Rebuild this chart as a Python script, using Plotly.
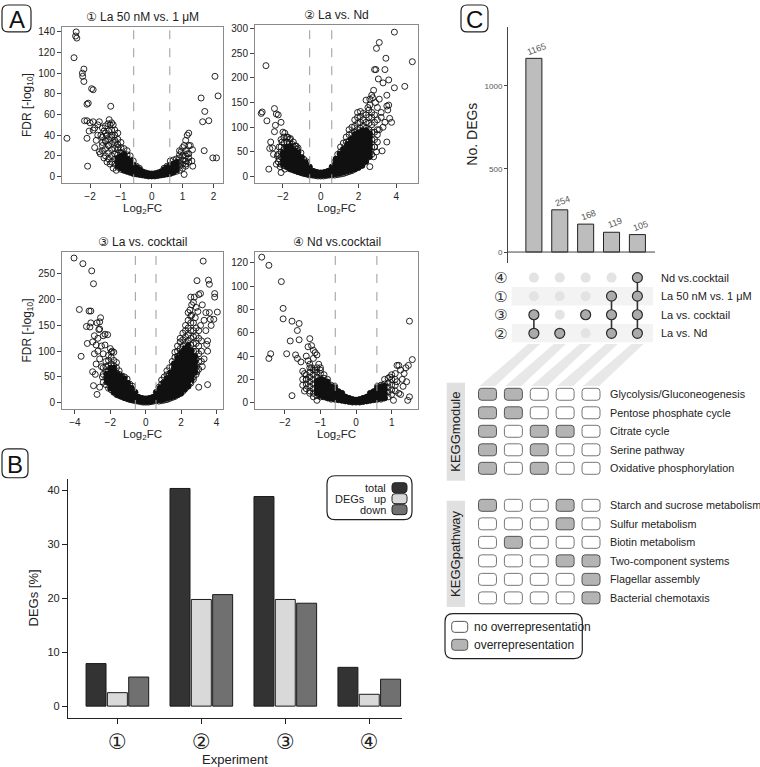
import plotly.graph_objects as go

W, H = 760, 767
FONT = "Liberation Sans, Arial, DejaVu Sans, sans-serif"

# ================= DATA =================
# ---- Panel A: volcano plots (Log2FC, -log10 FDR) ----
vol_titles = ["① La 50 nM vs. 1 μM", "② La vs. Nd", "③ La vs. cocktail", "④ Nd vs.cocktail"]
fc_threshold = 0.585

vol1_xticks = [-2, -1, 0, 1, 2]
vol1_yticks = [0, 20, 40, 60, 80, 100, 120, 140]
vol2_xticks = [-2, 0, 2, 4]
vol2_yticks = [0, 50, 100, 150, 200, 250, 300]
vol3_xticks = [-4, -2, 0, 2, 4]
vol3_yticks = [0, 50, 100, 150, 200, 250]
vol4_xticks = [-2, -1, 0, 1]
vol4_yticks = [0, 20, 40, 60, 80, 100, 120]

# scattered genes (open circles)
vol1_outliers = [(-2.75, 37), (-2.45, 140), (-2.47, 136), (-2.43, 134), (-2.52, 115), (-2.2, 104), (-2.25, 100),
                 (-2.24, 97), (-2.2, 92), (-1.95, 85), (-1.9, 84), (-2.06, 71), (-2.1, 70), (-1.33, 68), (-2.18, 54),
                 (-2.1, 54), (-2.03, 44), (-2.1, 37), (-2.08, 10), (-1.9, 53), (-1.7, 53), (-1.75, 50), (-1.85, 47),
                 (-1.6, 47), (-1.5, 49), (-1.38, 55), (-1.3, 52), (-1.35, 50), (-1.42, 51), (-1.25, 50), (-1.2, 45),
                 (-1.55, 44), (-1.65, 40), (-1.45, 40), (-1.8, 35), (-1.6, 30), (-1.7, 24), (-1.67, 22), (-1.55, 18),
                 (-1.45, 14), (-1.35, 12), (-1.25, 8), (-1.15, 6), (-1.5, 35), (-1.3, 40), (-1.4, 30), (-1.2, 35),
                 (-1.1, 28), (-1.9, 45), (-2.0, 52), (-1.75, 40), (-1.85, 28),
                 (2.05, 97), (2.15, 78), (1.6, 76), (1.72, 63), (1.85, 54), (1.65, 53), (1.7, 25), (1.98, 18),
                 (2.1, 18), (1.2, 42), (1.15, 40), (1.1, 35), (1.25, 30), (1.32, 26), (1.3, 15), (1.33, 10),
                 (1.05, 30), (1.0, 28), (1.15, 22), (1.2, 18), (1.1, 12), (0.95, 24), (1.05, 2), (0.9, 25)]
# dense arms (open circles, grouped by Log2FC column)
vol1_dense = [(0.0, [0.5, 2.5]), (0.1, [0.5, 2.5]), (-0.1, [0.5, 2.5]), (0.2, [1, 3.5]), (-0.2, [1, 3.5]),
              (0.3, [1.5, 4.5]), (-0.3, [1.5, 4.5]), (0.4, [2, 5.5, 8]), (-0.4, [2, 5.5, 8]),
              (0.5, [2.5, 6, 10]), (-0.5, [2.5, 6, 10]), (0.6, [3, 7, 11, 15]), (-0.6, [3, 7, 11, 15]),
              (0.7, [4, 8, 12, 16]), (-0.7, [4, 8, 12, 16, 20]), (0.8, [5, 9, 13, 17]),
              (-0.8, [5, 9, 13, 17, 21, 25]), (0.9, [6, 10, 14, 18, 21]), (-0.9, [6, 10, 14, 18, 22, 27]),
              (1.0, [8, 12, 16, 20]), (-1.0, [7, 11, 15, 19, 23, 28, 33]), (1.1, [10, 15, 20, 25]),
              (-1.1, [9, 13, 17, 21, 26, 31, 36, 42]), (1.2, [14, 22, 30]), (-1.2, [12, 17, 22, 27, 33, 40]),
              (-1.3, [14, 20, 26, 32, 38, 45]), (-1.4, [17, 23, 30, 36, 44]), (-1.5, [20, 27, 34, 42]),
              (-1.6, [25, 33, 38])]
# saturated cores (overlapping circles that read as solid black)
vol1_core = [(0.0, [0.5, 2.5]), (0.1, [0.5, 3]), (-0.1, [0.5, 3]), (0.2, [1, 3.5]), (-0.2, [1, 3.5]),
             (0.3, [1.5, 4.5]), (-0.3, [1.5, 4.5]), (0.4, [2, 5, 7]), (-0.4, [2, 5, 7]), (0.5, [2.5, 6, 9]),
             (-0.5, [2.5, 6, 9]), (-0.6, [3, 7, 11]), (0.6, [3, 7, 10]), (-0.7, [4, 8, 12, 15]),
             (0.7, [4, 8, 12]), (-0.8, [5, 9, 13, 17]), (0.8, [6, 10, 14]), (-0.9, [6, 10, 14, 18, 21]),
             (-1.0, [8, 12, 16, 20]), (-1.1, [10, 14, 18])]

vol2_outliers = [(-2.9, 225), (-3.15, 128), (-3.1, 131), (-2.45, 138), (-2.35, 127), (-2.25, 125), (-2.85, 113),
                 (-2.1, 110), (-2.4, 104), (-2.45, 91), (-2.65, 70), (-2.7, 57), (-2.55, 58), (-2.75, 15),
                 (-2.1, 8), (-2.2, 36), (-2.3, 42), (-2.5, 45), (-2.0, 90), (-1.9, 88), (-1.75, 80), (-1.6, 77),
                 (-1.45, 70), (-1.3, 62), (-1.25, 55), (-2.05, 70), (-2.2, 60), (-2.35, 25), (-2.15, 20), (-1.9, 15),
                 (3.9, 293), (3.1, 272), (2.95, 260), (4.85, 233), (3.45, 240), (2.85, 217), (2.92, 217),
                 (3.4, 217), (3.05, 198), (3.6, 196), (3.3, 190), (3.9, 180), (4.45, 183), (3.5, 165), (3.1, 157),
                 (3.5, 143), (3.55, 135), (3.2, 130), (3.65, 118), (3.5, 70), (3.25, 52), (2.95, 50), (2.6, 20),
                 (3.0, 85), (3.3, 100), (2.7, 165), (2.6, 157), (2.8, 175), (2.75, 160), (3.4, 110), (3.2, 120),
                 (3.0, 140), (2.9, 150), (3.1, 95), (2.85, 60), (2.8, 40), (3.6, 145), (3.75, 110), (2.5, 140),
                 (2.4, 155), (2.6, 145)]
vol2_dense = [(0.0, [1, 6]), (0.15, [1, 6]), (-0.15, [1, 6]), (0.3, [2, 9]), (-0.3, [2, 9]), (0.45, [3, 11]),
              (-0.45, [3, 11]), (0.6, [3, 11, 19]), (-0.6, [3, 11, 19]),
              (-0.75, [5, 13, 22, 30]), (-0.9, [6, 15, 25, 35]), (-1.05, [8, 18, 28, 38, 48]),
              (-1.2, [10, 20, 30, 40, 50, 58]), (-1.35, [12, 22, 32, 42, 52, 62]),
              (-1.5, [14, 25, 35, 45, 55, 65]), (-1.65, [16, 28, 38, 48, 58, 68, 76]),
              (-1.8, [20, 30, 40, 50, 60, 70, 80]), (-1.95, [22, 35, 45, 55, 68, 80]),
              (-2.1, [25, 40, 50, 60, 75]), (-2.25, [30, 45]),
              (0.75, [3, 12, 22, 30]), (0.9, [4, 14, 25, 35, 45]), (1.05, [5, 16, 28, 40, 50, 60]),
              (1.2, [6, 18, 30, 42, 55, 68]), (1.35, [8, 20, 32, 45, 58, 70, 80]),
              (1.5, [10, 22, 35, 48, 60, 72, 85, 95]), (1.65, [12, 25, 38, 50, 62, 75, 88, 100]),
              (1.8, [15, 28, 40, 52, 65, 78, 90, 102, 115]), (1.95, [18, 32, 45, 58, 70, 82, 95, 108, 120, 130]),
              (2.1, [22, 35, 48, 60, 72, 85, 98, 110, 122, 132]), (2.25, [28, 40, 52, 65, 78, 90, 102, 115, 128]),
              (2.4, [35, 48, 60, 72, 85, 98, 110, 125]), (2.55, [40, 55, 68, 80, 95, 108, 120, 135]),
              (2.7, [45, 60, 75, 90, 105, 120, 130]), (2.85, [60, 75, 90, 110, 125]), (3.0, [70, 95, 115])]
vol2_core = [(0.0, [2, 8]), (0.2, [2, 9]), (-0.2, [2, 9]), (0.4, [3, 11]), (-0.4, [3, 11]), (-0.6, [4, 12, 20]),
             (0.6, [4, 12, 20]), (-0.8, [5, 13, 21, 29]), (-1.0, [7, 15, 23, 31, 39]),
             (-1.2, [9, 17, 25, 33, 41, 48]), (-1.4, [12, 20, 28, 36, 44, 52]), (-1.6, [15, 23, 31, 39, 47, 55, 62]),
             (-1.8, [20, 28, 36, 44, 52, 60]), (-2.0, [25, 33, 41, 49]),
             (0.8, [5, 13, 21, 29, 36]), (1.0, [6, 14, 22, 30, 38, 46]), (1.2, [8, 16, 24, 32, 40, 48, 56]),
             (1.4, [10, 18, 26, 34, 42, 50, 58, 66]), (1.6, [12, 20, 28, 36, 44, 52, 60, 68, 76]),
             (1.8, [15, 23, 31, 39, 47, 55, 63, 71, 79, 86]), (2.0, [18, 26, 34, 42, 50, 58, 66, 74, 82, 90]),
             (2.2, [22, 30, 38, 46, 54, 62, 70, 78, 86, 94]), (2.4, [30, 38, 46, 54, 62, 70, 78, 86, 94]),
             (2.6, [40, 48, 56, 64, 72, 80, 88])]

vol3_outliers = [(-4.05, 281), (-3.55, 270), (-3.05, 256), (-2.95, 231), (-3.75, 181), (-3.2, 178), (-3.1, 178),
                 (-3.35, 148), (-3.15, 147), (-3.1, 155), (-2.55, 165), (-2.6, 157), (-2.75, 155), (-2.6, 143),
                 (-2.65, 142), (-2.3, 133), (-2.4, 130), (-2.15, 132), (-3.65, 90), (-3.0, 118), (-2.8, 112),
                 (-2.9, 95), (-3.0, 60), (-2.85, 55), (-2.95, 33), (-2.75, 16), (-2.0, 105), (-1.9, 100),
                 (-1.8, 98), (-2.5, 110), (-2.7, 100), (-2.4, 95), (-2.6, 85), (-2.8, 75), (-2.5, 70), (-2.3, 112),
                 (-2.7, 125), (-2.9, 130), (-3.3, 115), (-2.45, 50), (-2.6, 30),
                 (3.25, 275), (2.9, 237), (3.55, 238), (3.6, 230), (3.0, 210), (3.1, 212), (3.9, 212), (3.9, 205),
                 (4.05, 176), (3.4, 175), (3.6, 175), (3.85, 162), (3.65, 162), (3.5, 35), (3.5, 120), (3.45, 113),
                 (2.55, 205), (2.7, 195), (2.85, 185), (2.95, 177), (2.5, 180), (2.6, 170), (3.2, 190), (3.3, 160),
                 (3.1, 150), (3.4, 140), (3.5, 100), (3.3, 85), (3.2, 70), (2.9, 60), (2.7, 50), (2.5, 40),
                 (3.0, 30), (2.8, 165), (3.7, 150), (2.6, 190), (2.75, 205), (2.4, 175)]
vol3_dense = [(0.0, [1, 5]), (0.15, [1, 6]), (-0.15, [1, 6]), (0.3, [2, 8]), (-0.3, [2, 8]), (0.45, [3, 10]),
              (-0.45, [3, 10]), (0.6, [4, 12, 20]), (-0.6, [4, 12, 20]),
              (-0.75, [5, 14, 24, 32]), (-0.9, [6, 16, 26, 36]), (-1.05, [8, 18, 28, 38, 46]),
              (-1.2, [10, 20, 30, 40, 50]), (-1.35, [12, 22, 32, 42, 52]), (-1.5, [14, 25, 35, 45, 55, 62]),
              (-1.65, [16, 28, 38, 48, 58, 68, 78]), (-1.8, [20, 30, 42, 52, 62, 72, 82]),
              (-1.95, [25, 35, 45, 55, 65, 75, 88, 98]), (-2.1, [28, 40, 52, 62, 72, 82, 92]),
              (-2.25, [35, 48, 60, 70, 80]), (-2.4, [40, 55, 68]),
              (0.75, [3, 12, 22, 30]), (0.9, [4, 14, 26, 36, 44]), (1.05, [5, 16, 28, 40, 50]),
              (1.2, [6, 18, 30, 42, 54, 62]), (1.35, [8, 20, 32, 44, 56, 68]), (1.5, [10, 22, 34, 46, 58, 70, 80]),
              (1.65, [12, 25, 38, 50, 62, 75, 88, 98]), (1.8, [15, 28, 40, 52, 65, 78, 90, 100, 110]),
              (1.95, [18, 30, 42, 55, 68, 80, 92, 105, 118, 125]),
              (2.1, [22, 35, 48, 60, 72, 85, 98, 110, 122, 135]),
              (2.25, [28, 40, 52, 65, 78, 90, 102, 115, 128, 140, 150]),
              (2.4, [32, 45, 58, 70, 82, 95, 108, 120, 132, 145, 160]),
              (2.55, [38, 50, 62, 75, 88, 100, 112, 125, 140, 155, 168]),
              (2.7, [45, 58, 70, 85, 100, 115, 128, 140, 155]), (2.85, [55, 70, 85, 100, 115, 130, 145]),
              (3.0, [65, 80, 95, 110, 125, 140]), (3.15, [80, 100, 120])]
vol3_core = [(0.0, [2, 8]), (0.2, [2, 9]), (-0.2, [2, 9]), (0.4, [3, 11]), (-0.4, [3, 11]), (0.6, [4, 12, 20]),
             (-0.6, [4, 12, 20]), (-0.8, [5, 13, 21, 29]), (-1.0, [7, 15, 23, 31, 38]),
             (-1.2, [9, 17, 25, 33, 41, 47]), (-1.4, [12, 20, 28, 36, 44, 52]), (-1.6, [15, 23, 31, 39, 47, 55]),
             (-1.8, [20, 28, 36, 44, 52, 60, 68]), (-2.0, [28, 36, 44, 52, 60, 68]), (-2.2, [40, 48, 56]),
             (0.8, [5, 13, 21, 29]), (1.0, [6, 14, 22, 30, 38]), (1.2, [8, 16, 24, 32, 40, 48]),
             (1.4, [10, 18, 26, 34, 42, 50, 58]), (1.6, [12, 20, 28, 36, 44, 52, 60, 68, 76]),
             (1.8, [15, 23, 31, 39, 47, 55, 63, 71, 79, 87]), (2.0, [18, 26, 34, 42, 50, 58, 66, 74, 82, 90, 98]),
             (2.2, [25, 33, 41, 49, 57, 65, 73, 81, 89, 97, 105]),
             (2.4, [32, 40, 48, 56, 64, 72, 80, 88, 96, 104, 112]), (2.6, [45, 53, 61, 69, 77, 85, 93, 101]),
             (2.8, [60, 70, 80, 90])]

vol4_outliers = [(-2.65, 125), (-2.45, 118), (-2.1, 104), (-2.05, 81), (-2.05, 72), (-1.8, 70), (-1.6, 68),
                 (-1.65, 62), (-1.85, 53), (-1.6, 54), (-2.4, 42), (-2.45, 38), (-1.95, 42), (-1.7, 41),
                 (-1.65, 38), (-1.3, 55), (-1.25, 49), (-1.2, 45), (-1.15, 43), (-1.1, 41), (-1.8, 6), (-1.35, 48),
                 (-1.4, 40), (-1.5, 27), (-1.45, 25), (-1.35, 36), (-1.3, 33), (-1.2, 38), (-1.05, 33), (-1.0, 30),
                 (-1.15, 28), (-1.25, 30), (-1.4, 20), (-1.3, 8), (-1.2, 5), (-1.1, 2), (-1.55, 35), (-1.45, 10),
                 (1.5, 70), (1.58, 37), (1.47, 32), (1.2, 32), (1.15, 32), (1.25, 28), (1.35, 25), (1.1, 25),
                 (1.0, 24), (0.95, 22), (1.42, 18), (1.32, 14), (1.2, 8), (1.25, 7), (1.45, 2), (1.5, 5),
                 (1.05, 2), (1.15, 18), (1.3, 20), (1.4, 30)]
vol4_dense = [(0.0, [0.5, 2]), (0.1, [0.5, 2.5]), (-0.1, [0.5, 2.5]), (0.2, [1, 3.5]), (-0.2, [1, 3.5]),
              (0.3, [1.5, 4.5]), (-0.3, [1.5, 4.5]), (0.4, [2, 5, 8]), (-0.4, [2, 5, 8]),
              (0.5, [2.5, 6, 9.5]), (-0.5, [2.5, 6, 9.5]), (0.6, [3, 7, 11, 14]), (-0.6, [3, 7, 11, 14]),
              (-0.7, [3, 7, 11, 15]), (-0.8, [4, 8, 12, 16, 20]), (-0.9, [5, 9, 13, 17, 21, 24]),
              (-1.0, [5, 9, 13, 17, 21, 25, 28]), (-1.1, [6, 10, 14, 18, 22, 26, 30]),
              (-1.2, [8, 12, 16, 20, 24, 28]), (-1.3, [10, 14, 18, 22, 26, 30]), (-1.4, [12, 16, 20, 24]),
              (-1.5, [15, 20]),
              (0.7, [3, 7, 11, 15]), (0.8, [4, 8, 12, 16, 20]), (0.9, [5, 9, 13, 17, 21]),
              (1.0, [7, 11, 15, 20]), (1.1, [10, 15, 20])]
vol4_core = [(0.0, [0.5, 2.5]), (0.1, [0.5, 3]), (-0.1, [0.5, 3]), (0.2, [1, 4]), (-0.2, [1, 4]),
             (0.3, [1.5, 5]), (-0.3, [1.5, 5]), (0.4, [2, 5.5, 8]), (-0.4, [2, 5.5, 8]), (0.5, [2.5, 6, 9.5]),
             (-0.5, [2.5, 6, 9.5]), (-0.6, [3, 6.5, 10, 13]), (0.6, [3, 6.5, 10, 13]),
             (-0.7, [3.5, 7, 10.5, 14]), (0.7, [3.5, 7, 10.5, 14]), (-0.8, [4, 7.5, 11, 14.5, 18]),
             (0.8, [4, 7.5, 11, 14.5]), (-0.9, [5, 8.5, 12, 15.5, 19]), (-1.0, [6, 9.5, 13, 16.5, 20]),
             (-1.1, [8, 11.5, 15, 18.5])]

# ---- Panel B: DEGs [%] ----
exp_labels = ["①", "②", "③", "④"]
deg_total = [7.9, 40.4, 38.9, 7.2]
deg_up = [2.5, 19.8, 19.8, 2.2]
deg_down = [5.4, 20.7, 19.1, 5.0]

# ---- Panel C: UpSet ----
inter_sizes = [1165, 254, 168, 119, 105]
set_nums = ["④", "①", "③", "②"]
set_names = ["Nd vs.cocktail", "La 50 nM vs. 1 μM", "La vs. cocktail", "La vs. Nd"]
inter_members = [[2, 3], [3], [2], [1, 2, 3], [0, 1, 2, 3]]

kegg_module_terms = ["Glycolysis/Gluconeogenesis", "Pentose phosphate cycle", "Citrate cycle",
                     "Serine pathway", "Oxidative phosphorylation"]
kegg_module_hits = [[1, 1, 0, 0, 0], [1, 1, 0, 0, 0], [1, 0, 1, 1, 0], [1, 0, 1, 0, 0], [1, 0, 1, 0, 0]]
kegg_pathway_terms = ["Starch and sucrose metabolism", "Sulfur metabolism", "Biotin metabolism",
                      "Two-component systems", "Flagellar assembly", "Bacterial chemotaxis"]
kegg_pathway_hits = [[1, 0, 0, 1, 0], [0, 0, 0, 1, 0], [0, 1, 0, 0, 0], [0, 0, 0, 1, 1],
                     [0, 0, 0, 0, 1], [0, 0, 0, 0, 1]]

# ================= FIGURE =================
def X(v): return v / W
def Y(v): return 1 - v / H

def ax_id(n):
    return "" if n == 1 else str(n)

def unpack(groups):
    xs, ys = [], []
    for xv, yl in groups:
        for yv in yl:
            xs.append(xv)
            ys.append(yv)
    return xs, ys

fig = go.Figure()
shapes = []
annots = []

def ann(x, y, text, size=12, color="#222", xanchor="center", yanchor="middle", angle=0, xref="paper", yref="paper", **kw):
    annots.append(dict(x=x, y=y, xref=xref, yref=yref, text=text, showarrow=False, xanchor=xanchor,
                       yanchor=yanchor, textangle=angle, font=dict(size=size, color=color, family=FONT), **kw))

def rrect_paper(x0, y0, x1, y1, r, fill, line="#222", lw=1.0, layer="above"):
    rx, ry = r / W, r / H
    a, b, c, d = X(x0), Y(y0), X(x1), Y(y1)
    p = (f"M {a+rx},{b} L {c-rx},{b} Q {c},{b} {c},{b-ry} L {c},{d+ry} Q {c},{d} {c-rx},{d} "
         f"L {a+rx},{d} Q {a},{d} {a},{d+ry} L {a},{b-ry} Q {a},{b} {a+rx},{b} Z")
    shapes.append(dict(type="path", path=p, xref="paper", yref="paper", fillcolor=fill,
                       line=dict(color=line, width=lw), layer=layer))

# ---------- Panel A ----------
vol_specs = [
    (1, (62, 223), (25, 181.7), [-2.91, 2.31], [-6.5, 144.8], vol1_xticks, vol1_yticks, vol1_outliers, vol1_dense, vol1_core, True),
    (2, (255, 418), (23.3, 181.7), [-3.48, 5.15], [-13.6, 307], vol2_xticks, vol2_yticks, vol2_outliers, vol2_dense, vol2_core, False),
    (3, (62, 223), (250.7, 408), [-4.73, 4.37], [-12.2, 292.6], vol3_xticks, vol3_yticks, vol3_outliers, vol3_dense, vol3_core, True),
    (4, (255, 418), (250.7, 408), [-2.84, 1.74], [-5.4, 129.4], vol4_xticks, vol4_yticks, vol4_outliers, vol4_dense, vol4_core, False),
]
layout_axes = {}
for i, (n, xp, yp, xr, yr, xt, yt, outl, dense, core, ytitle) in enumerate(vol_specs):
    k = ax_id(n)
    cxs, cys = unpack(core)
    fig.add_trace(go.Scatter(x=cxs, y=cys, mode="markers", xaxis=f"x{k}", yaxis=f"y{k}",
                             marker=dict(symbol="circle", size=6, color="#111", line=dict(width=0)),
                             hoverinfo="skip"))
    dxs, dys = unpack(dense)
    xs = [p[0] for p in outl] + dxs
    ys = [p[1] for p in outl] + dys
    fig.add_trace(go.Scatter(x=xs, y=ys, mode="markers", xaxis=f"x{k}", yaxis=f"y{k}",
                             marker=dict(symbol="circle-open", size=6, color="#111", line=dict(width=0.9)),
                             hoverinfo="skip"))
    common = dict(showline=True, mirror=True, linecolor="#8a8a8a", linewidth=1, ticks="outside", ticklen=4,
                  tickcolor="#444", showgrid=False, zeroline=False,
                  tickfont=dict(size=10, color="#222", family=FONT))
    layout_axes[f"xaxis{k}"] = dict(domain=[X(xp[0]), X(xp[1])], anchor=f"y{k}", range=xr, tickvals=xt, **common)
    layout_axes[f"yaxis{k}"] = dict(domain=[Y(yp[1]), Y(yp[0])], anchor=f"x{k}", range=yr, tickvals=yt, **common)
    for s in (-fc_threshold, fc_threshold):
        shapes.append(dict(type="line", xref=f"x{k}", yref=f"y{k} domain", x0=s, x1=s, y0=0, y1=1,
                           line=dict(color="#9a9a9a", width=1, dash="dash")))
    cx = (xp[0] + xp[1]) / 2
    ann(X(cx), Y(yp[0] - 10), vol_titles[i], size=12)
    ann(X(cx), Y(yp[1] + 26), "Log<sub>2</sub>FC", size=11.5)
    if ytitle:
        ann(X(28), Y((yp[0] + yp[1]) / 2), "FDR [-log<sub>10</sub>]", size=12, angle=-90)

# ---------- Panel B ----------
bx = [1, 2, 3, 4]
off = 0.254
bw = 0.238
for vals, col, dx in ((deg_total, "#333333", -off), (deg_up, "#d9d9d9", 0), (deg_down, "#707070", off)):
    fig.add_trace(go.Bar(x=[v + dx for v in bx], y=vals, width=bw, xaxis="x5", yaxis="y5",
                         marker=dict(color=col, line=dict(color="#1a1a1a", width=1)), hoverinfo="skip"))
layout_axes["xaxis5"] = dict(domain=[X(68), X(402)], anchor="y5", range=[0.412, 4.39], tickvals=bx,
                             ticktext=exp_labels, showline=True, linecolor="#222", linewidth=1.2,
                             ticks="outside", ticklen=5, tickcolor="#222", showgrid=False, zeroline=False,
                             tickfont=dict(size=21, color="#222", family=FONT))
layout_axes["yaxis5"] = dict(domain=[Y(717.7), Y(478)], anchor="x5", range=[-2.17, 42.2],
                             tickvals=[0, 10, 20, 30, 40], showline=True, linecolor="#222", linewidth=1.2,
                             ticks="outside", ticklen=5, tickcolor="#222", showgrid=False, zeroline=False,
                             tickfont=dict(size=11, color="#222", family=FONT))
ann(X(235), Y(759), "Experiment", size=13)
ann(X(33), Y(598), "DEGs [%]", size=13, angle=-90)
# legend B
rrect_paper(327, 475, 412, 519, 8, "white", "#222", 1.2)
for yy, lab, col in ((487, "total", "#333333"), (498, "up", "#d9d9d9"), (509, "down", "#707070")):
    ann(X(388), Y(yy), lab, size=11, xanchor="right")
    rrect_paper(392, yy - 5, 407, yy + 5, 3, col, "#222", 1)
ann(X(333), Y(498), "DEGs", size=11, xanchor="left")

# ---------- Panel C: intersection bars ----------
cx_idx = [1, 2, 3, 4, 5]
fig.add_trace(go.Bar(x=cx_idx, y=inter_sizes, width=0.62, xaxis="x6", yaxis="y6",
                     marker=dict(color="#bdbdbd", line=dict(color="#222", width=1)), hoverinfo="skip"))
layout_axes["xaxis6"] = dict(domain=[X(508), X(655)], anchor="y6", range=[0.0, 5.68], visible=False)
layout_axes["yaxis6"] = dict(domain=[Y(261.7), Y(25)], anchor="x6", range=[-66, 1354], tickvals=[0, 500, 1000],
                             showline=True, linecolor="#444", linewidth=1, ticks="outside", ticklen=3,
                             tickcolor="#444", showgrid=False, zeroline=False,
                             tickfont=dict(size=8, color="#555", family=FONT))
shapes.append(dict(type="line", xref="x6", yref="y6", x0=0.0, x1=5.68, y0=0, y1=0,
                   line=dict(color="#444", width=1)))
for xi, v in zip(cx_idx, inter_sizes):
    ann(xi, v, str(v), size=9, color="#555", angle=-20, xref="x6", yref="y6", yshift=9, xshift=3)
ann(X(472), Y(133), "No. DEGs", size=14, angle=-90)

# matrix
layout_axes["yaxis7"] = dict(domain=[Y(341.5), Y(267)], anchor="x6", range=[3.5, -0.5], visible=False)
for r in (1, 3):
    shapes.append(dict(type="rect", xref="paper", yref="y7", x0=X(511.7), x1=X(653), y0=r - 0.5, y1=r + 0.5,
                       fillcolor="#f3f3f3", line=dict(width=0), layer="below"))
inx, iny, ax_, ay_ = [], [], [], []
for ci, mem in zip(cx_idx, inter_members):
    for r in range(len(set_names)):
        if r in mem:
            ax_.append(ci); ay_.append(r)
        else:
            inx.append(ci); iny.append(r)
fig.add_trace(go.Scatter(x=inx, y=iny, mode="markers", xaxis="x6", yaxis="y7",
                         marker=dict(size=10, color="#e3e3e3"), hoverinfo="skip"))
for ci, mem in zip(cx_idx, inter_members):
    if len(mem) > 1:
        fig.add_trace(go.Scatter(x=[ci, ci], y=[min(mem), max(mem)], mode="lines", xaxis="x6", yaxis="y7",
                                 line=dict(color="#333", width=1.6), hoverinfo="skip"))
fig.add_trace(go.Scatter(x=ax_, y=ay_, mode="markers", xaxis="x6", yaxis="y7",
                         marker=dict(size=10, color="#ababab", line=dict(color="#2a2a2a", width=1.2)),
                         hoverinfo="skip"))
for r, (num, name) in enumerate(zip(set_nums, set_names)):
    ann(X(500), r, num, size=15, color="#333", xref="paper", yref="y7")
    ann(X(659), r, name, size=11, xanchor="left", xref="paper", yref="y7")

# beams from matrix columns to KEGG grid columns
col_px = [534, 559.9, 585.8, 611.7, 637.6]
for c in col_px:
    g = c - 46.5
    p = (f"M {X(c-6)},{Y(343)} L {X(c+6)},{Y(343)} L {X(g+8)},{Y(385)} L {X(g-8)},{Y(385)} Z")
    shapes.append(dict(type="path", path=p, xref="paper", yref="paper", fillcolor="rgba(205,205,205,0.45)",
                       line=dict(width=0), layer="below"))

# KEGG grid
layout_axes["xaxis8"] = dict(domain=[X(470), X(605)], anchor="y8", range=[0.324, 5.54], visible=False)
layout_axes["yaxis8"] = dict(domain=[Y(608), Y(383)], anchor="x8", range=[11.57, -0.555], visible=False)
terms = kegg_module_terms + [None] + kegg_pathway_terms
hits = kegg_module_hits + [None] + kegg_pathway_hits
hw, hh, rx, ry = 0.347, 0.323, 0.12, 0.17
for r, (t, h) in enumerate(zip(terms, hits)):
    if t is None:
        continue
    for ci, v in zip(cx_idx, h):
        x0, x1, y0, y1 = ci - hw, ci + hw, r - hh, r + hh
        p = (f"M {x0+rx},{y0} L {x1-rx},{y0} Q {x1},{y0} {x1},{y0+ry} L {x1},{y1-ry} Q {x1},{y1} {x1-rx},{y1} "
             f"L {x0+rx},{y1} Q {x0},{y1} {x0},{y1-ry} L {x0},{y0+ry} Q {x0},{y0} {x0+rx},{y0} Z")
        shapes.append(dict(type="path", path=p, xref="x8", yref="y8",
                           fillcolor="#b4b4b4" if v else "white",
                           line=dict(color="#555" if v else "#777", width=1)))
    ann(X(608.3), r, t, size=10.8, xanchor="left", xref="paper", yref="y8")
# group labels
for (y0, y1, lab) in ((381.7, 480, "KEGGmodule"), (500, 606.7, "KEGGpathway")):
    shapes.append(dict(type="rect", xref="paper", yref="paper", x0=X(446.7), x1=X(465), y0=Y(y1), y1=Y(y0),
                       fillcolor="#e0e0e0", line=dict(width=0), layer="below"))
    ann(X(456), Y((y0 + y1) / 2), lab, size=13, angle=-90)

# legend C
rrect_paper(445, 613.3, 582.3, 658.3, 8, "white", "#222", 1.2)
rrect_paper(451.7, 621, 467.7, 632, 3, "white", "#555", 1)
rrect_paper(451.7, 639, 467.7, 650, 3, "#b4b4b4", "#555", 1)
ann(X(471.5), Y(626.5), "no overrepresentation", size=12, xanchor="left")
ann(X(471.5), Y(644.5), "overrepresentation", size=12, xanchor="left")

# panel labels
for (x0, y0, x1, y1, L) in ((2, 3, 31, 30, "A"), (2, 448, 28, 477, "B"), (461, 3, 488, 30, "C")):
    rrect_paper(x0, y0, x1, y1, 6, "white", "#222", 1.2)
    ann(X((x0 + x1) / 2), Y((y0 + y1) / 2 + 1), L, size=24, color="#111")

fig.update_layout(width=W, height=H, margin=dict(l=0, r=0, t=0, b=0), paper_bgcolor="white",
                  plot_bgcolor="white", showlegend=False, barmode="overlay", shapes=shapes, annotations=annots,
                  font=dict(family=FONT), **layout_axes)
fig.write_html("out.html", config={"displayModeBar": False},
               post_script="document.body.style.margin='0px';")
